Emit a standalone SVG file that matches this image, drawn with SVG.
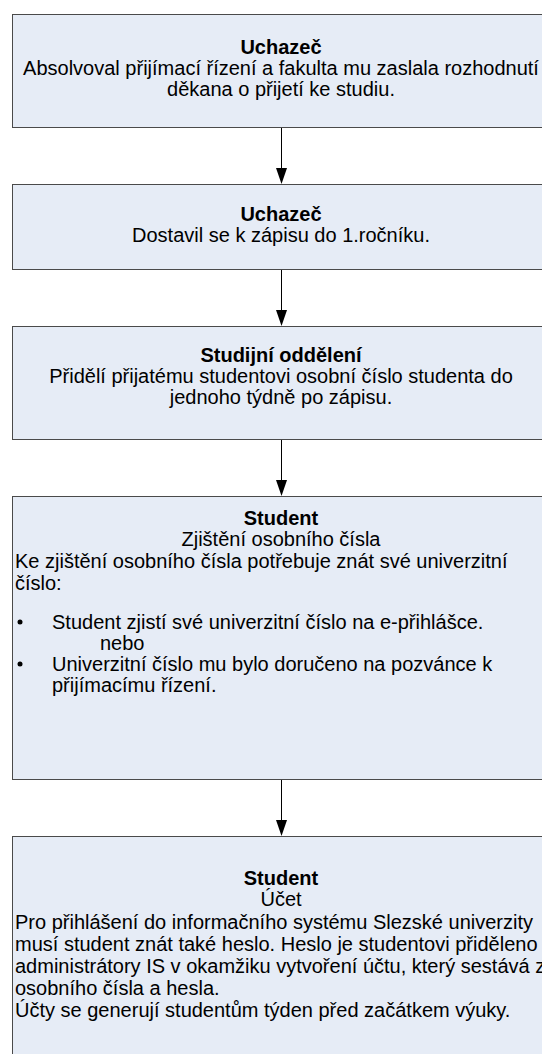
<svg xmlns="http://www.w3.org/2000/svg" width="542" height="1054" viewBox="0 0 542 1054">
<defs>
<style>
.box{fill:#e6ecf6;stroke:#4a4a4a;stroke-width:1}
text{font-family:"Liberation Sans",Arial,sans-serif;font-size:20px;fill:#000}
.c{text-anchor:middle}
.b{font-weight:bold}
.conn{stroke:#000;stroke-width:1;fill:none}
</style>
</defs>
<rect width="542" height="1054" fill="#fff"/>
<g id="connectors">
<path class="conn" d="M281.5,127.5 V168"/>
<path d="M276,168 L287,168 L281.5,184 Z"/>
<path class="conn" d="M281.5,269.5 V310"/>
<path d="M276,310 L287,310 L281.5,326 Z"/>
<path class="conn" d="M281.5,439.5 V480"/>
<path d="M276,480 L287,480 L281.5,496 Z"/>
<path class="conn" d="M281.5,779.5 V820"/>
<path d="M276,820 L287,820 L281.5,836 Z"/>
</g>
<g id="node1">
<rect class="box" x="12.5" y="14.5" width="570" height="113"/>
<text class="c b" x="281" y="54">Uchazeč</text>
<text class="c" x="281" y="75">Absolvoval přijímací řízení a fakulta mu zaslala rozhodnutí</text>
<text class="c" x="281" y="96">děkana o přijetí ke studiu.</text>
</g>
<g id="node2">
<rect class="box" x="12.5" y="184.5" width="570" height="85"/>
<text class="c b" x="281" y="221">Uchazeč</text>
<text class="c" x="281" y="242">Dostavil se k zápisu do 1.ročníku.</text>
</g>
<g id="node3">
<rect class="box" x="12.5" y="326.5" width="570" height="113"/>
<text class="c b" x="281" y="362">Studijní oddělení</text>
<text class="c" x="281" y="383">Přidělí přijatému studentovi osobní číslo studenta do</text>
<text class="c" x="281" y="404">jednoho týdně po zápisu.</text>
</g>
<g id="node4">
<rect class="box" x="12.5" y="496.5" width="570" height="283"/>
<text class="c b" x="281" y="525">Student</text>
<text class="c" x="281" y="546">Zjištění osobního čísla</text>
<text x="15" y="568">Ke zjištění osobního čísla potřebuje znát své univerzitní</text>
<text x="15" y="590">číslo:</text>
<circle cx="20" cy="622" r="2.5"/>
<text x="52" y="629">Student zjistí své univerzitní číslo na e-přihlášce.</text>
<text x="100" y="650">nebo</text>
<circle cx="20" cy="664" r="2.5"/>
<text x="52" y="671">Univerzitní číslo mu bylo doručeno na pozvánce k</text>
<text x="52" y="692">přijímacímu řízení.</text>
</g>
<g id="node5">
<rect class="box" x="12.5" y="836.5" width="570" height="240"/>
<text class="c b" x="281" y="885">Student</text>
<text class="c" x="281" y="906">Účet</text>
<text x="15" y="929">Pro přihlášení do informačního systému Slezské univerzity</text>
<text x="15" y="951">musí student znát také heslo. Heslo je studentovi přiděleno</text>
<text x="15" y="973">administrátory IS v okamžiku vytvoření účtu, který sestává z</text>
<text x="15" y="995">osobního čísla a hesla.</text>
<text x="15" y="1017">Účty se generují studentům týden před začátkem výuky.</text>
</g>
</svg>
